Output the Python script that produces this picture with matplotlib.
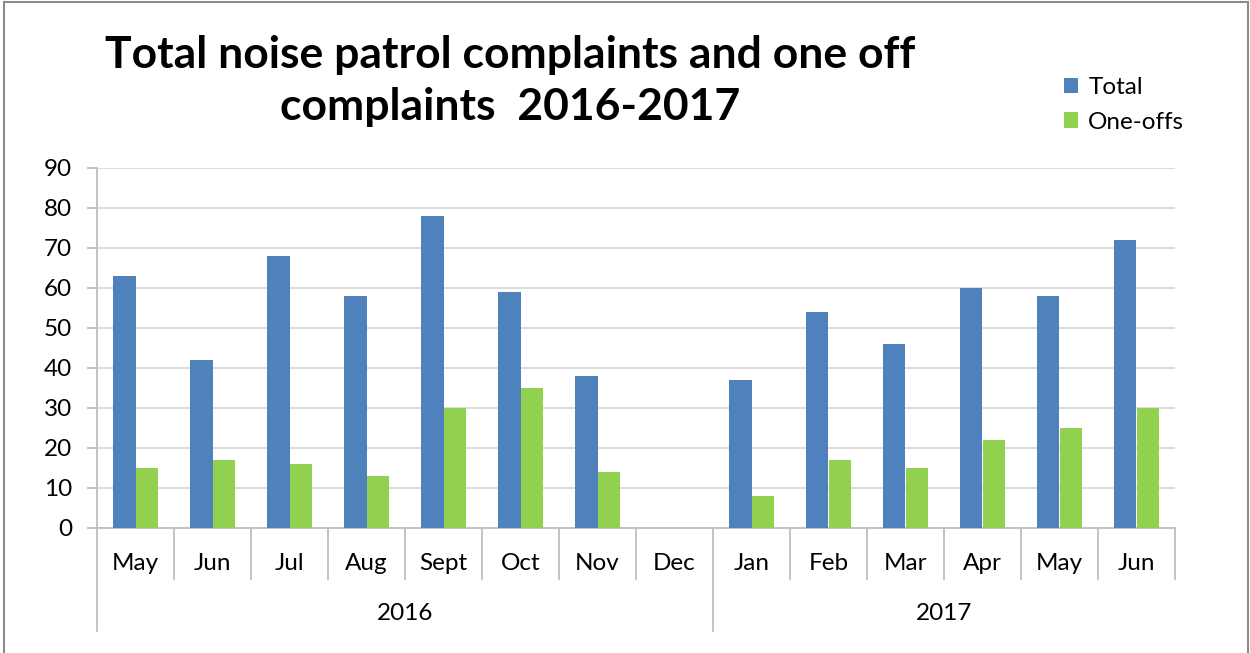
import matplotlib
matplotlib.use("Agg")
import matplotlib.pyplot as plt
from matplotlib.lines import Line2D
import matplotlib.transforms as mtransforms
import numpy as np

months = ["May", "Jun", "Jul", "Aug", "Sept", "Oct", "Nov", "Dec",
          "Jan", "Feb", "Mar", "Apr", "May", "Jun"]
years = ["2016", "2017"]
year_counts = [8, 6]
total = [63, 42, 68, 58, 78, 59, 38, 0, 37, 54, 46, 60, 58, 72]
one_offs = [15, 17, 16, 13, 30, 35, 14, 0, 8, 17, 15, 22, 25, 30]
yticks = [0, 10, 20, 30, 40, 50, 60, 70, 80, 90]

plt.rcParams['font.family'] = ['Lato', 'DejaVu Sans']

W, H = 1250, 653
fig = plt.figure(figsize=(W / 100, H / 100), dpi=100)
ax = fig.add_axes([97 / W, 1 - 528 / H, (1175 - 97) / W, (528 - 168) / H])

x = np.arange(len(months))
bw = 0.286
ax.bar(x - bw / 2, total, width=bw, color="#4F81BD", label="Total", zorder=3)
ax.bar(x + bw / 2, one_offs, width=bw, color="#92D050", label="One-offs", zorder=3)

fs = 17.5
ax.set_xlim(-0.5, len(months) - 0.5)
ax.set_ylim(0, 90)
ax.set_yticks(yticks)
ax.set_yticklabels([str(v) for v in yticks], fontsize=fs)
ax.yaxis.grid(True, color="#D9D9D9", linewidth=1.3, zorder=0)
ax.tick_params(axis='y', length=7, color="#BFBFBF", width=1.3, pad=11)
ax.set_xticks([])
for s in ["top", "right"]:
    ax.spines[s].set_visible(False)
ax.spines["left"].set_color("#BFBFBF")
ax.spines["left"].set_linewidth(1.3)
ax.spines["bottom"].set_color("#BFBFBF")
ax.spines["bottom"].set_linewidth(1.3)

trans = mtransforms.blended_transform_factory(ax.transData, ax.transAxes)
short_y = (528 - 579) / 360
long_y = (528 - 631) / 360
year_bounds = [-0.5]
acc = -0.5
for c in year_counts:
    acc += c
    year_bounds.append(acc)
for i in range(len(months) + 1):
    xb = i - 0.5
    ylow = long_y if (xb in year_bounds[:-1]) else short_y
    ax.add_line(Line2D([xb, xb], [0, ylow], transform=trans, color="#BFBFBF",
                       linewidth=1.3, clip_on=False))
for i, m in enumerate(months):
    ax.text(i, (528 - 563) / 360, m, transform=trans, ha="center", va="center",
            fontsize=fs)
start = -0.5
for yr, c in zip(years, year_counts):
    ax.text(start + c / 2, (528 - 613) / 360, yr, transform=trans,
            ha="center", va="center", fontsize=fs)
    start += c

fig.text(510 / W, 1 - 81 / H, "Total noise patrol complaints and one off\ncomplaints  2016-2017",
         ha="center", va="center", fontsize=32, fontweight="bold", linespacing=1.38)

leg = fig.legend(loc="center left", bbox_to_anchor=(1042 / W, 1 - 105 / H),
                 frameon=False, fontsize=fs, handlelength=0.6, handleheight=0.6,
                 handletextpad=0.4, labelspacing=0.55)

# figure border
bc = "#8C8C8C"
fig.add_artist(Line2D([4 / W, 4 / W], [0, 1 - 2 / H], transform=fig.transFigure, color=bc, linewidth=1.5))
fig.add_artist(Line2D([4 / W, 1248 / W], [1 - 2 / H, 1 - 2 / H], transform=fig.transFigure, color=bc, linewidth=1.5))
fig.add_artist(Line2D([1248 / W, 1248 / W], [0, 1 - 2 / H], transform=fig.transFigure, color=bc, linewidth=1.5))

fig.savefig("out.png", dpi=100)
